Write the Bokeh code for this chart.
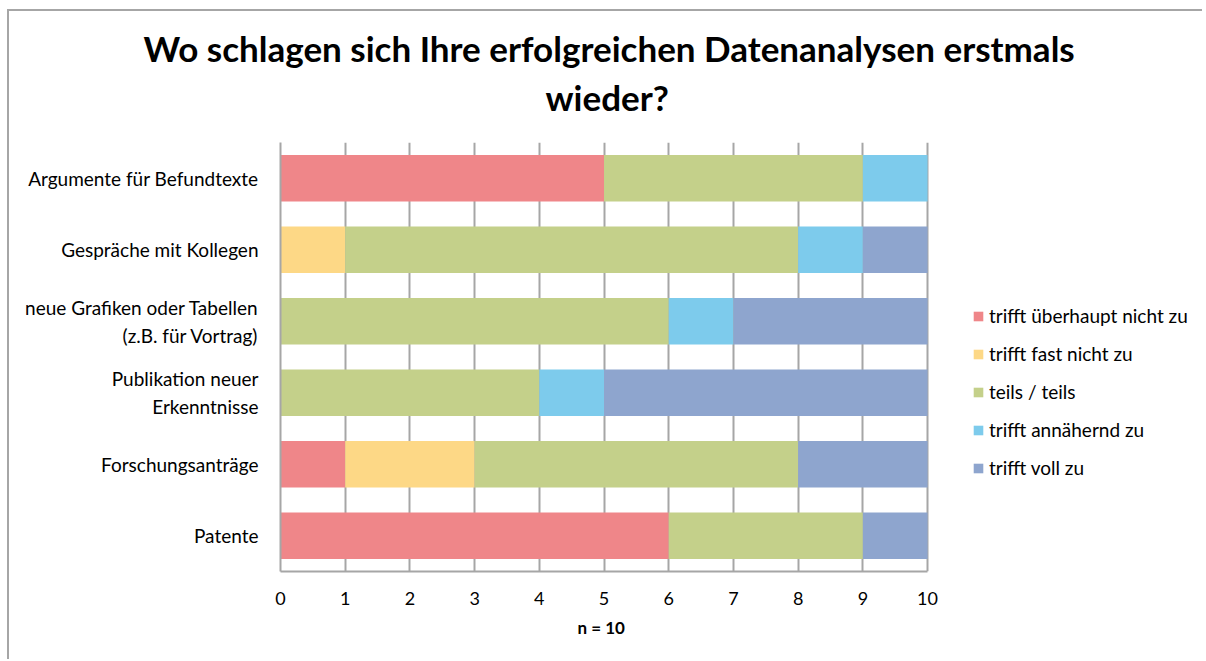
from bokeh.plotting import figure
from bokeh.models import (ColumnDataSource, FactorRange, Range1d, FixedTicker,
                          Legend, LegendItem, Title)
from bokeh.embed import file_html
from bokeh.resources import INLINE

categories = ["Argumente für Befundtexte",
              "Gespräche mit Kollegen",
              "neue Grafiken oder Tabellen\n(z.B. für Vortrag)",
              "Publikation neuer\nErkenntnisse",
              "Forschungsanträge",
              "Patente"]
series = ["trifft überhaupt nicht zu", "trifft fast nicht zu", "teils / teils",
          "trifft annähernd zu", "trifft voll zu"]
ueberhaupt_nicht = [5, 0, 0, 0, 1, 6]
fast_nicht = [0, 1, 0, 0, 2, 0]
teils = [4, 7, 6, 4, 5, 3]
annaehernd = [1, 1, 1, 1, 0, 0]
voll = [0, 1, 3, 5, 2, 1]
x_ticks = [0, 1, 2, 3, 4, 5, 6, 7, 8, 9, 10]
colors = ["#EF8689", "#FDD886", "#C4D08A", "#7DCBEC", "#8EA5CE"]

FONT = "Lato"
keys = ["s0", "s1", "s2", "s3", "s4"]
source = ColumnDataSource(dict(cat=categories, s0=ueberhaupt_nicht, s1=fast_nicht,
                               s2=teils, s3=annaehernd, s4=voll))

# frame spans 280..1204 px; axis 0..10 occupies 280..927 px, the rest holds the legend
p = figure(width=1195, height=650, output_backend="svg", toolbar_location=None,
           y_range=FactorRange(factors=list(reversed(categories))),
           x_range=Range1d(0, 14.28),
           min_border_left=271, min_border_right=0, min_border_top=131,
           min_border_bottom=90)
p.styles = {"margin-left": "9px", "margin-top": "11px",
            "box-shadow": "-2px -2px 0 0 #a6a6a6"}

renderers = p.hbar_stack(keys, y="cat", height=0.65, color=colors, source=source,
                         line_color=None)

# spacer between frame and title
p.add_layout(Title(text=" ", text_font_size="10px", standoff=12), "above")
p.add_layout(Title(text="wieder?", align="left", text_font=FONT,
                   text_font_size="35px", text_font_style="bold",
                   text_color="#000000", standoff=0, offset=265), "above")
p.add_layout(Title(text="Wo schlagen sich Ihre erfolgreichen Datenanalysen erstmals",
                   align="left", text_font=FONT, text_font_size="35px",
                   text_font_style="bold", text_color="#000000", standoff=10,
                   offset=-137), "above")

p.xaxis.ticker = FixedTicker(ticks=x_ticks)
p.xaxis.bounds = (0, 10)
p.xaxis.major_label_standoff = 20
p.xaxis.major_tick_out = 0
p.xaxis.major_tick_in = 0
p.xaxis.minor_tick_out = 0
p.xaxis.minor_tick_in = 0
p.xaxis.axis_line_color = "#a6a6a6"
p.xaxis.axis_line_width = 2
p.xaxis.major_label_text_font = FONT
p.xaxis.major_label_text_font_size = "18px"
p.xaxis.major_label_text_color = "#000000"

p.add_layout(Title(text="n = 10", align="left", text_font=FONT,
                   text_font_size="17px", text_font_style="bold",
                   text_color="#000000", standoff=14, offset=297), "below")

p.yaxis.major_tick_out = 0
p.yaxis.major_tick_in = 0
p.yaxis.axis_line_color = "#a6a6a6"
p.yaxis.axis_line_width = 2
p.yaxis.major_label_standoff = 22
p.yaxis.major_label_text_font = FONT
p.yaxis.major_label_text_font_size = "19px"
p.yaxis.major_label_text_color = "#000000"

p.ygrid.grid_line_color = None
p.xgrid.grid_line_color = "#a6a6a6"
p.xgrid.grid_line_width = 2
p.outline_line_color = None

legend = Legend(items=[LegendItem(label=s, renderers=[r]) for s, r in zip(series, renderers)],
                location=(692, 92), orientation="vertical", border_line_color=None,
                background_fill_alpha=0, label_text_font=FONT, label_text_font_size="19px",
                label_text_color="#000000", glyph_width=12, glyph_height=12,
                label_height=22, spacing=15, padding=0, margin=0, label_standoff=5)
p.add_layout(legend, "center")

open("out.html", "w").write(file_html(p, INLINE))
